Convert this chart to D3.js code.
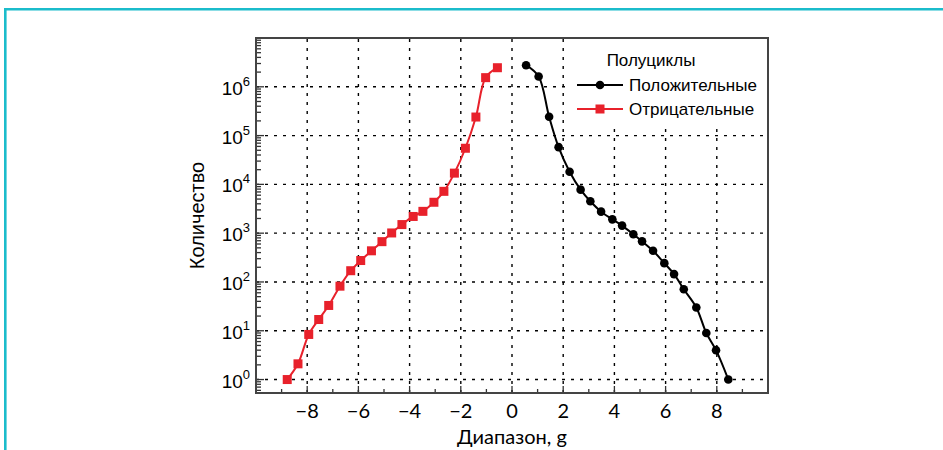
<!DOCTYPE html>
<html>
<head>
<meta charset="utf-8">
<script src="https://cdn.jsdelivr.net/npm/d3@7"></script>
<style>
  body { margin: 0; background: #fff; }
  svg text { font-family: "Liberation Sans", Arial, sans-serif; }
</style>
</head>
<body>
<div id="chart"></div>
<script>
// data
var negX = [-8.78, -8.36, -7.94, -7.55, -7.16, -6.72, -6.30, -5.91, -5.49, -5.08, -4.70,
            -4.30, -3.86, -3.48, -3.05, -2.66, -2.25, -1.82, -1.41, -1.03, -0.57];
var negY = [1, 2.1, 8.4, 17, 33, 82, 170, 275, 435, 670, 1010,
            1500, 2200, 2800, 4300, 7200, 17000, 55000, 240000, 1540000, 2460000];
var posX = [0.55, 1.04, 1.45, 1.82, 2.25, 2.68, 3.06, 3.48, 3.92, 4.30,
            4.74, 5.08, 5.51, 5.95, 6.33, 6.71, 7.20, 7.59, 7.97, 8.45];
var posY = [2770000, 1620000, 243000, 58000, 18200, 7800, 4500, 2760, 1920, 1430,
            950, 680, 435, 243, 145, 71, 30, 9, 4, 1];
var xTicks = [-8, -6, -4, -2, 0, 2, 4, 6, 8];
var yTicks = [1, 10, 100, 1000, 10000, 100000, 1000000];
var seriesNames = ["Положительные", "Отрицательные"];
var legendTitle = "Полуциклы";

var W = 943, H = 450;
var margin = {top: 38, right: 175, bottom: 57, left: 256};

var svg = d3.select("#chart").append("svg")
    .attr("width", W).attr("height", H);

// teal page frame
svg.append("path")
    .attr("d", "M5.3," + H + " V9.3 H" + W)
    .attr("fill", "none")
    .attr("stroke", "#1bbccb")
    .attr("stroke-width", 2.6);

var x = d3.scaleLinear().domain([-10, 10]).range([margin.left, W - margin.right]);
var y = d3.scaleLog().domain([0.53, 1e7]).range([H - margin.bottom, margin.top]);

var x0 = x.range()[0], x1 = x.range()[1], y0 = y.range()[0], y1 = y.range()[1];

// grid
var grid = svg.append("g").attr("stroke", "#000").attr("stroke-width", 1.4)
    .attr("stroke-dasharray", "3,6");
grid.selectAll(".vg").data(xTicks).enter().append("line")
    .attr("x1", function(d) { return x(d); }).attr("x2", function(d) { return x(d); })
    .attr("y1", y0).attr("y2", y1);
grid.selectAll(".hg").data(yTicks).enter().append("line")
    .attr("y1", function(d) { return y(d); }).attr("y2", function(d) { return y(d); })
    .attr("x1", x0).attr("x2", x1);

// legend background hides grid
svg.append("rect").attr("x", 569).attr("y", y1).attr("width", x1 - 569).attr("height", 127 - y1)
    .attr("fill", "#fff");

// minor ticks, pointing inward
var ticks = svg.append("g").attr("stroke", "#333").attr("stroke-width", 1.3);
var xMinor = d3.range(-9, 10);
ticks.selectAll(".xt").data(xMinor).enter().append("line")
    .attr("x1", function(d) { return x(d); }).attr("x2", function(d) { return x(d); })
    .attr("y1", y0).attr("y2", function(d) { return y0 - (d % 2 === 0 ? 7 : 4); });
var yMinor = y.ticks(80).filter(function(d) { return d >= y.domain()[0] && d <= y.domain()[1]; });
ticks.selectAll(".yt").data(yMinor).enter().append("line")
    .attr("y1", function(d) { return y(d); }).attr("y2", function(d) { return y(d); })
    .attr("x1", x0).attr("x2", function(d) {
      var l = Math.log10(d);
      return x0 + (Math.abs(l - Math.round(l)) < 1e-9 ? 8 : 5);
    });

// frame
svg.append("rect").attr("x", x0).attr("y", y1).attr("width", x1 - x0).attr("height", y0 - y1)
    .attr("fill", "none").attr("stroke", "#444").attr("stroke-width", 2);

// x tick labels
svg.selectAll(".xl").data(xTicks).enter().append("text")
    .attr("x", function(d) { return x(d); })
    .attr("y", 418)
    .attr("text-anchor", "middle")
    .style("font-family", "Lato, sans-serif")
    .style("font-size", "20px")
    .text(function(d) { return d < 0 ? "\u2212" + (-d) : d; });

// y tick labels 10^n
var yl = svg.selectAll(".yl").data(yTicks).enter().append("text")
    .attr("x", 250)
    .attr("y", function(d) { return y(d) + 8; })
    .attr("text-anchor", "end")
    .style("font-size", "19px");
yl.append("tspan").text("10");
yl.append("tspan").attr("dy", -9).style("font-size", "13px")
    .text(function(d) { return Math.round(Math.log10(d)); });

// axis titles
svg.append("text")
    .attr("transform", "translate(204," + ((y0 + y1) / 2) + ") rotate(-90)")
    .attr("text-anchor", "middle")
    .style("font-size", "20px")
    .text("Количество");
svg.append("text")
    .attr("x", (x0 + x1) / 2).attr("y", 444)
    .attr("text-anchor", "middle")
    .style("font-family", "Lato, sans-serif")
    .style("font-size", "20px")
    .text("Диапазон, g");

// lines
var line = d3.line()
    .x(function(d) { return x(d[0]); })
    .y(function(d) { return y(d[1]); })
    .curve(d3.curveCatmullRom.alpha(0.5));

var negData = negX.map(function(d, i) { return [d, negY[i]]; });
var posData = posX.map(function(d, i) { return [d, posY[i]]; });
var red = "#e8212b";

svg.append("path").datum(negData).attr("d", line)
    .attr("fill", "none").attr("stroke", red).attr("stroke-width", 2);
svg.selectAll(".nm").data(negData).enter().append("rect")
    .attr("x", function(d) { return x(d[0]) - 4.5; })
    .attr("y", function(d) { return y(d[1]) - 4.5; })
    .attr("width", 9).attr("height", 9)
    .attr("fill", red);

svg.append("path").datum(posData).attr("d", line)
    .attr("fill", "none").attr("stroke", "#000").attr("stroke-width", 2);
svg.selectAll(".pm").data(posData).enter().append("circle")
    .attr("cx", function(d) { return x(d[0]); })
    .attr("cy", function(d) { return y(d[1]); })
    .attr("r", 4.3)
    .attr("fill", "#000");

// legend
var lg = svg.append("g");
lg.append("text").attr("x", 651).attr("y", 66).attr("text-anchor", "middle")
    .style("font-size", "17px").text(legendTitle);
var legendRows = [{name: seriesNames[0], color: "#000", shape: "circle", yy: 85},
                  {name: seriesNames[1], color: red, shape: "square", yy: 109}];
legendRows.forEach(function(r) {
  lg.append("line").attr("x1", 577).attr("x2", 623).attr("y1", r.yy).attr("y2", r.yy)
      .attr("stroke", r.color).attr("stroke-width", 2);
  if (r.shape === "circle") {
    lg.append("circle").attr("cx", 600).attr("cy", r.yy).attr("r", 4.3).attr("fill", r.color);
  } else {
    lg.append("rect").attr("x", 595.5).attr("y", r.yy - 4.5).attr("width", 9).attr("height", 9)
        .attr("fill", r.color);
  }
  lg.append("text").attr("x", 629).attr("y", r.yy + 6)
      .style("font-size", "17px").text(r.name);
});
</script>
</body>
</html>
